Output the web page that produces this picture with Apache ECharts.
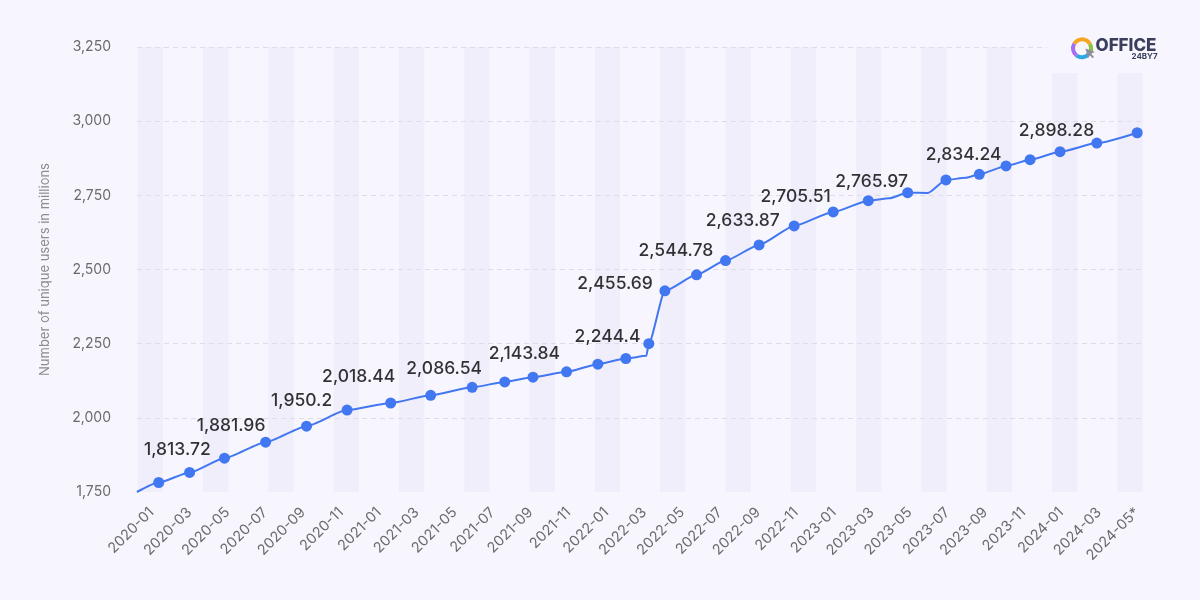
<!DOCTYPE html>
<html>
<head>
<meta charset="utf-8">
<script src="https://cdn.jsdelivr.net/npm/echarts@6/dist/echarts.min.js"></script>
<style>
  html, body { margin: 0; padding: 0; background: #f7f6fe; }
  #chart { width: 1200px; height: 600px; }
</style>
</head>
<body>
<div id="chart"></div>
<script>
// ---- data ----
const xLabels = ['2020-01','2020-03','2020-05','2020-07','2020-09','2020-11',
  '2021-01','2021-03','2021-05','2021-07','2021-09','2021-11',
  '2022-01','2022-03','2022-05','2022-07','2022-09','2022-11',
  '2023-01','2023-03','2023-05','2023-07','2023-09','2023-11',
  '2024-01','2024-03','2024-05*'];

// month offsets from 2020-01 of each line vertex
const lineMonths = [-0.77, 0.38, 2.01, 3.85, 6.02, 8.18, 10.32, 12.62, 14.73, 16.92,
  18.64, 20.13, 21.9, 23.55, 25.03, 26.11, 26.24, 27.09, 28.76, 30.29,
  32.06, 33.91, 35.97, 37.82, 38.93, 39.9, 40.96, 41.92, 42.98, 43.68,
  45.09, 46.36, 47.94, 49.88, 52.01];
const lineValues = [1750, 1782, 1816, 1864, 1918, 1972, 2026, 2050, 2076, 2103,
  2121, 2137, 2155, 2181, 2200, 2209, 2250, 2428, 2482, 2530,
  2583, 2647, 2694, 2732, 2740, 2759, 2758, 2802, 2809, 2821,
  2849, 2870, 2897, 2926, 2961];
// vertices drawn without a marker
const unmarkedVertices = [0, 15, 24, 26, 28];

// annotation texts and the spot (month, value) where each one sits
const noteValues = [1813.72, 1881.96, 1950.2, 2018.44, 2086.54, 2143.84, 2244.4,
  2455.69, 2544.78, 2633.87, 2705.51, 2765.97, 2834.24, 2898.28];
const noteMonths = [1.36, 4.2, 7.92, 10.93, 15.44, 19.68, 24.06,
  24.46, 27.67, 31.2, 33.99, 38.0, 42.85, 47.75];
const noteLevels = [1893, 1973, 2058, 2138, 2165, 2215, 2272,
  2451, 2563, 2664, 2746, 2795, 2887, 2968];

// background stripes: 31 slots, shaded on every other one
const bandSlots = Array.from({length: 31}, (_, i) => 's' + i);
const bandValues = [3250,'-',3250,'-',3250,'-',3250,'-',3250,'-',3250,'-',3250,'-',3250,'-',
  3250,'-',3250,'-',3250,'-',3250,'-',3250,'-',3250,'-',3250,'-',3250];

// ---- chart ----
const fmt = v => Number(v).toLocaleString('en-US', {maximumFractionDigits: 2});
const FONT = 'Inter';
const BG = '#f7f6fe';
const BLUE = '#4277f2';

const lineData = lineMonths.map((m, i) => ({
  value: [m, lineValues[i]],
  symbolSize: unmarkedVertices.includes(i) ? 0 : 11
}));
const noteData = noteMonths.map((m, i) => [m, noteLevels[i], noteValues[i]]);

const chart = echarts.init(document.getElementById('chart'), null, {renderer: 'canvas'});
chart.setOption({
  backgroundColor: BG,
  animation: false,
  textStyle: {fontFamily: FONT},
  grid: [
    {left: 137, right: 57, top: 47, bottom: 108},
    {left: 151.5, right: 63, top: 47, bottom: 108},
    {left: 134.1, right: 53.7, top: 47, bottom: 108}
  ],
  xAxis: [
    // month scale spanning the plot area (2020-01 sits 14.5px in from the left edge)
    {gridIndex: 0, type: 'value', show: false, min: -0.765, max: 52.317},
    {gridIndex: 1, type: 'category', data: xLabels, boundaryGap: false,
      axisLine: {show: false}, axisTick: {show: false}, splitLine: {show: false},
      axisLabel: {rotate: 45, margin: 18, interval: 0, color: '#6b6b6b', fontSize: 14.5, fontFamily: FONT}},
    {gridIndex: 2, type: 'category', show: false, data: bandSlots, boundaryGap: true}
  ],
  yAxis: [
    {gridIndex: 0, type: 'value', min: 1750, max: 3250, interval: 250,
      axisLine: {show: false}, axisTick: {show: false},
      axisLabel: {margin: 26, color: '#6b6b6b', fontSize: 14, fontFamily: FONT, formatter: v => fmt(v)},
      splitLine: {show: true, showMinLine: false, lineStyle: {type: [5, 4], color: '#dedbea', width: 1}},
      name: 'Number of unique users in millions', nameLocation: 'middle', nameGap: 85,
      nameTextStyle: {color: '#8c8c8c', fontSize: 13, fontFamily: FONT}},
    {gridIndex: 1, type: 'value', show: false, min: 1750, max: 3250},
    {gridIndex: 2, type: 'value', show: false, min: 1750, max: 3250}
  ],
  series: [
    {type: 'bar', xAxisIndex: 2, yAxisIndex: 2, data: bandValues, barWidth: 25.4,
      itemStyle: {color: '#f1eefb'}, silent: true, z: -1},
    {type: 'line', xAxisIndex: 0, yAxisIndex: 0, data: lineData, clip: false,
      smooth: 0.2, smoothMonotone: 'x', symbol: 'circle',
      lineStyle: {color: BLUE, width: 2}, itemStyle: {color: BLUE}, z: 3},
    {type: 'scatter', xAxisIndex: 0, yAxisIndex: 0, data: noteData, symbolSize: 0, silent: true,
      label: {show: true, position: 'inside', color: '#000000', fontSize: 17.5, fontWeight: 500, fontFamily: FONT,
        formatter: p => fmt(p.value[2])}, z: 5}
  ],
  graphic: [
    {type: 'rect', shape: {x: 1047, y: 30, width: 115, height: 43}, style: {fill: BG}, z: 100, silent: true},
    {type: 'arc', shape: {cx: 1082, cy: 48.3, r: 9, startAngle: -2.6, endAngle: -0.5}, style: {stroke: '#f5a623', lineWidth: 4, fill: 'none'}, z: 101},
    {type: 'arc', shape: {cx: 1082, cy: 48.3, r: 9, startAngle: -0.5, endAngle: 0.75}, style: {stroke: '#86c440', lineWidth: 4, fill: 'none'}, z: 101},
    {type: 'arc', shape: {cx: 1082, cy: 48.3, r: 9, startAngle: 0.75, endAngle: 2.2}, style: {stroke: '#2ba8e4', lineWidth: 4, fill: 'none'}, z: 101},
    {type: 'arc', shape: {cx: 1082, cy: 48.3, r: 9, startAngle: 2.2, endAngle: 3.68}, style: {stroke: '#a56df2', lineWidth: 4, fill: 'none'}, z: 101},
    {type: 'polygon', shape: {points: [[1085.5, 48.5], [1095, 52], [1091, 53.5], [1094, 57], [1092.5, 58.3], [1089.6, 54.8], [1088, 58.5]]},
      style: {fill: '#8d8d9c'}, z: 102},
    {type: 'text', x: 1095.5, y: 37.5, style: {text: 'OFFICE', font: '800 17px Inter', fill: '#3c3e5e'}, z: 102},
    {type: 'text', x: 1131.5, y: 52.5, style: {text: '24BY7', font: '700 8px Inter', fill: '#3c3e5e'}, z: 102}
  ]
});
</script>
</body>
</html>
